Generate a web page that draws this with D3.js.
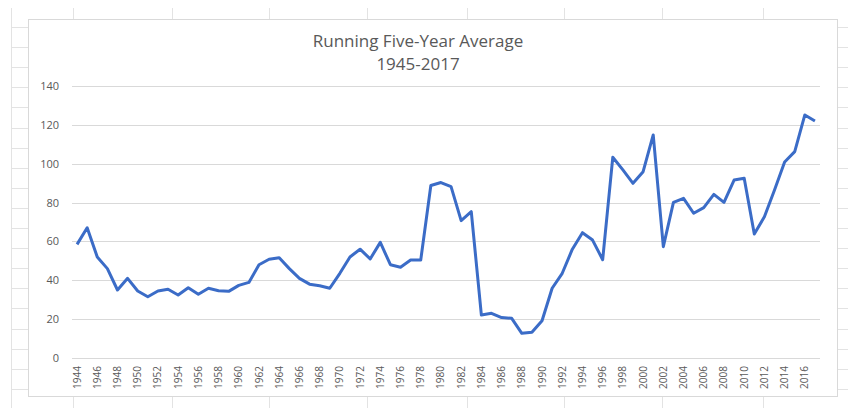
<!DOCTYPE html>
<html>
<head>
<meta charset="utf-8">
<style>
body { margin: 0; background: #fff; }
text { font-family: "Open Sans", "Liberation Sans", sans-serif; fill: #595959; }
.grid line { stroke: #d9d9d9; stroke-width: 1px; }
.sheet line { stroke: #e3e3e3; stroke-width: 1px; }
</style>
</head>
<body>
<script src="https://cdn.jsdelivr.net/npm/d3@7"></script>
<script>
var width = 848,
    height = 408;

// years 1944..2017
var years = d3.range(1944, 2018);
var values = [58.5, 67, 52, 46, 35, 41, 34.5, 31.5, 34.5, 35.4,
              32.4, 36.2, 32.8, 35.9, 34.6, 34.3, 37.4, 38.9, 48, 50.8,
              51.6, 46, 41, 38, 37.2, 35.9, 43.6, 52, 56, 51,
              59.5, 48, 46.7, 50.4, 50.4, 88.8, 90.3, 88.2, 70.7, 75.3,
              22.1, 23, 20.8, 20.4, 12.7, 13.2, 19.2, 35.9, 43.6, 56,
              64.5, 60.7, 50.6, 103.3, 96.8, 89.9, 95.9, 114.8, 57.3, 80.1,
              82.2, 74.5, 77.4, 84.2, 80.1, 91.6, 92.5, 63.8, 72.7, 86.5,
              100.9, 106.2, 125.1, 122];
var yTicks = [0, 20, 40, 60, 80, 100, 120, 140];
var xLabels = d3.range(1944, 2018, 2);
var titleLines = ["Running Five-Year Average", "1945-2017"];

var svg = d3.select("body").append("svg")
    .attr("width", width)
    .attr("height", height);

// spreadsheet cells behind the chart
var sheet = svg.append("g").attr("class", "sheet");
sheet.selectAll("line.v")
    .data([11, 73, 172, 269, 367, 467, 564, 662, 763])
    .enter().append("line")
    .attr("x1", function(d) { return d + 0.5; }).attr("x2", function(d) { return d + 0.5; })
    .attr("y1", 8).attr("y2", height);
sheet.selectAll("line.h")
    .data(d3.range(27, height, 20.1))
    .enter().append("line")
    .attr("x1", 11).attr("x2", width)
    .attr("y1", function(d) { return Math.round(d) + 0.5; })
    .attr("y2", function(d) { return Math.round(d) + 0.5; });

// chart area
svg.append("rect")
    .attr("x", 28.5).attr("y", 19.5)
    .attr("width", 809).attr("height", 377)
    .attr("fill", "#fff")
    .attr("stroke", "#d9d9d9");

var x = d3.scaleBand()
    .domain(years)
    .range([72, 820]);

var y = d3.scaleLinear()
    .domain([0, 140])
    .range([358, 86]);

// horizontal gridlines + y labels
var grid = svg.append("g").attr("class", "grid");
grid.selectAll("line")
    .data(yTicks)
    .enter().append("line")
    .attr("x1", 72).attr("x2", 820)
    .attr("y1", function(d) { return Math.round(y(d)) + 0.5; })
    .attr("y2", function(d) { return Math.round(y(d)) + 0.5; });

svg.append("g").selectAll("text")
    .data(yTicks)
    .enter().append("text")
    .attr("x", 59)
    .attr("y", function(d) { return y(d) + 4; })
    .attr("text-anchor", "end")
    .style("font-size", "11px")
    .text(function(d) { return d; });

// x labels, rotated
svg.append("g").selectAll("text")
    .data(xLabels)
    .enter().append("text")
    .attr("transform", function(d) {
        return "translate(" + (x(d) + x.bandwidth() / 2 + 3.5) + ",366) rotate(-90)";
    })
    .attr("text-anchor", "end")
    .style("font-size", "10px")
    .text(function(d) { return d; });

// the line
var line = d3.line()
    .x(function(d, i) { return x(years[i]) + x.bandwidth() / 2; })
    .y(function(d) { return y(d); });

svg.append("path")
    .datum(values)
    .attr("d", line)
    .attr("fill", "none")
    .attr("stroke", "#3b6cc7")
    .attr("stroke-width", 3)
    .attr("stroke-linejoin", "round");

// title
svg.append("g").selectAll("text")
    .data(titleLines)
    .enter().append("text")
    .attr("x", 418)
    .attr("y", function(d, i) { return 47 + i * 23; })
    .attr("text-anchor", "middle")
    .style("font-size", "17px")
    .text(function(d) { return d; });
</script>
</body>
</html>
